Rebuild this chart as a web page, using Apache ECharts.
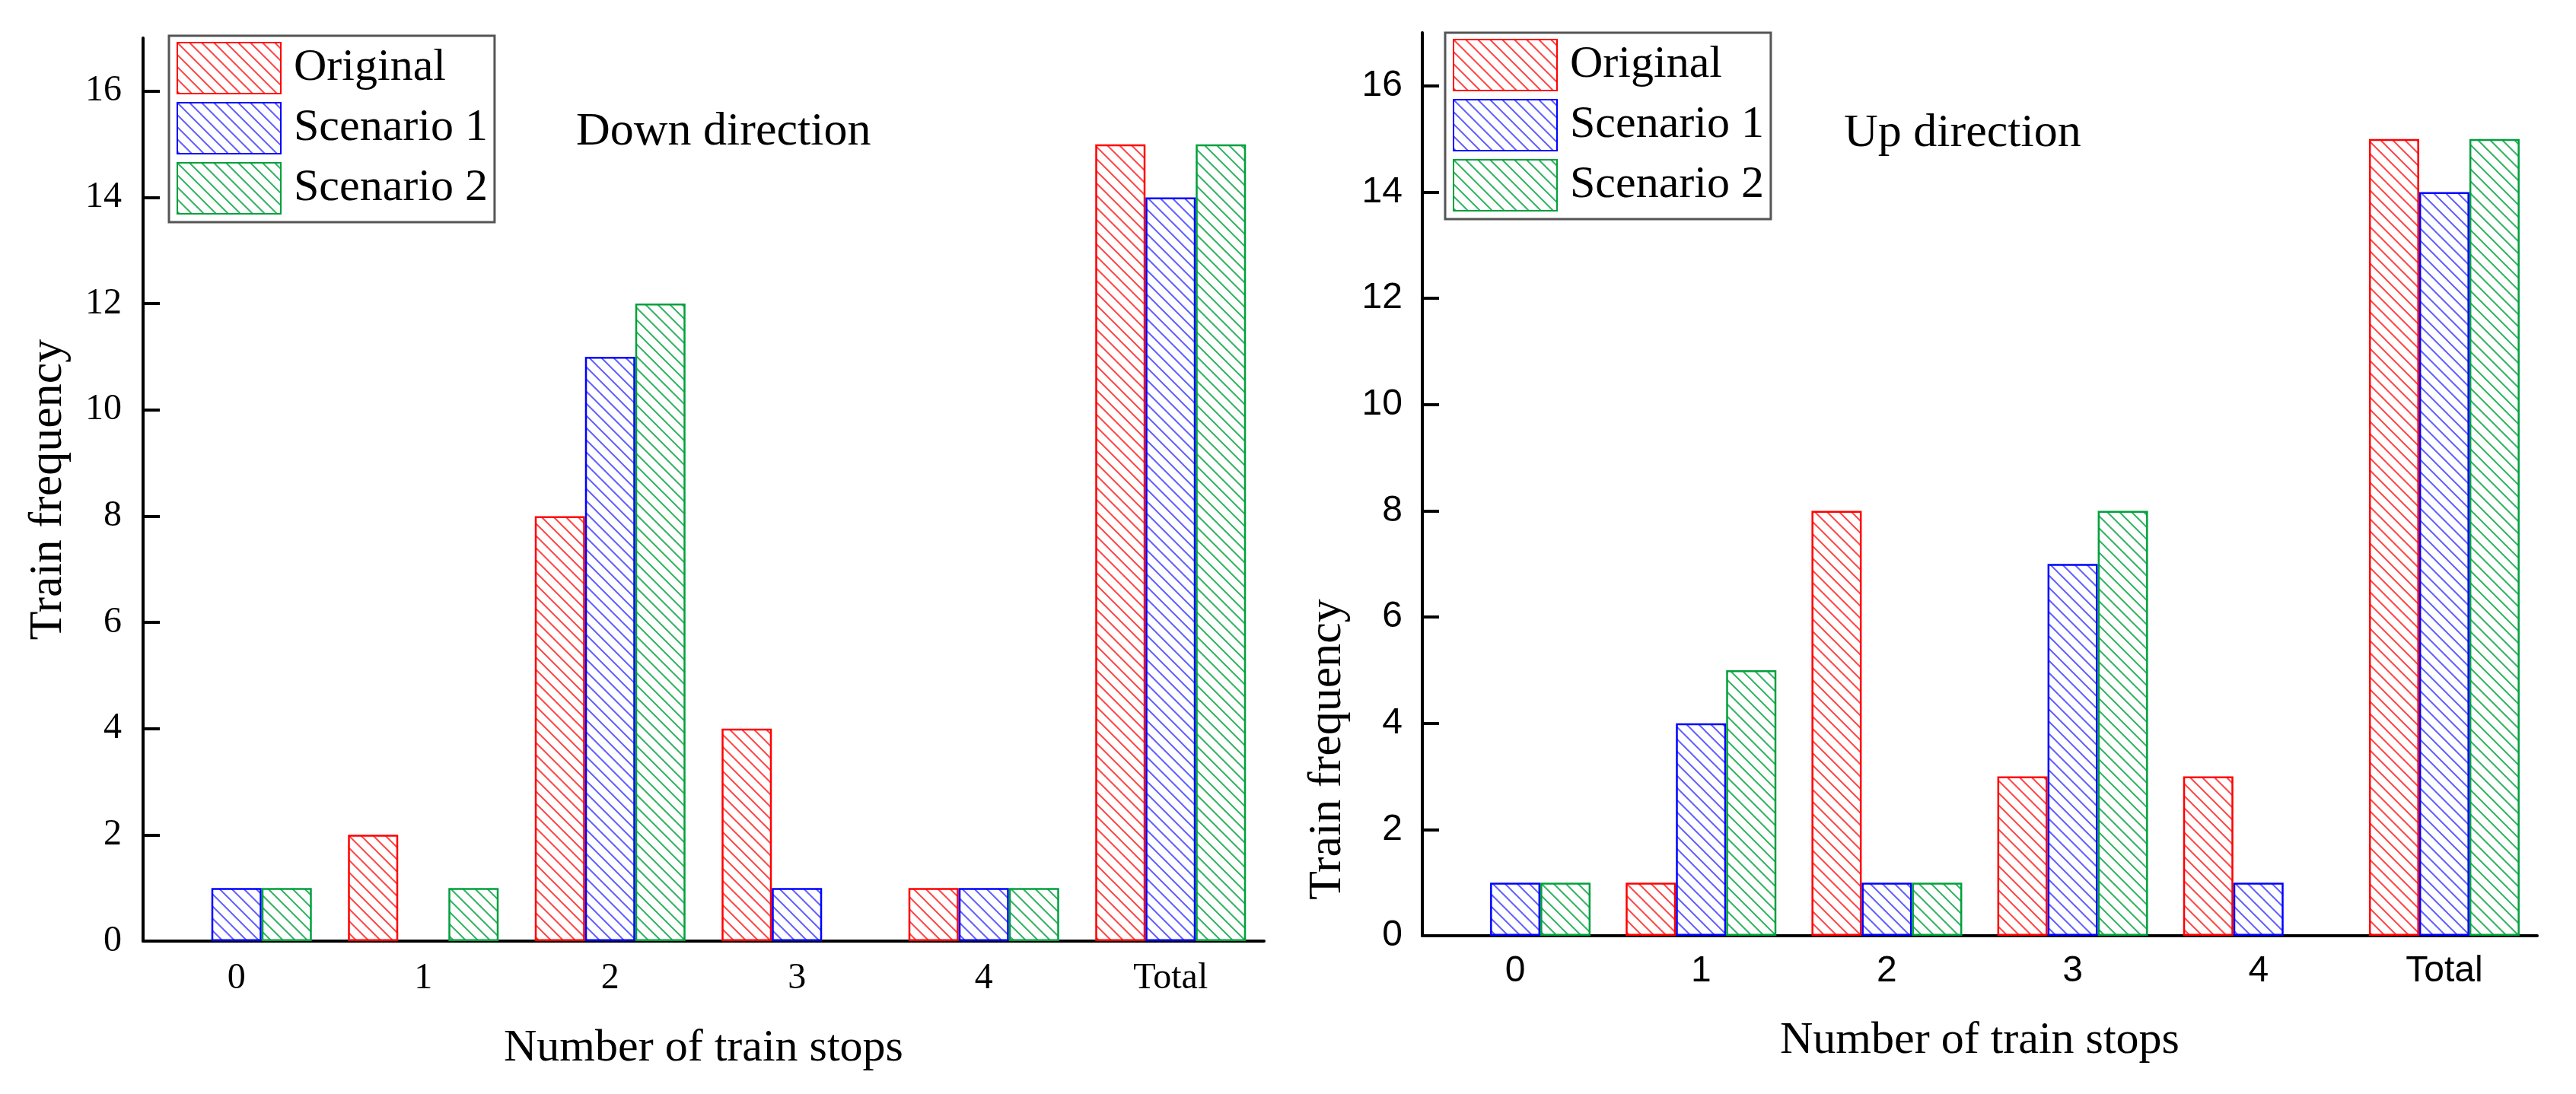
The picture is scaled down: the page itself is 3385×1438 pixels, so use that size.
<!DOCTYPE html>
<html><head><meta charset="utf-8">
<script src="https://cdn.jsdelivr.net/npm/echarts@6/dist/echarts.min.js"></script>
<style>html,body{margin:0;padding:0;background:#fff}#c{width:3385px;height:1438px}</style>
</head><body><div id="c"></div>
<script>
const categories = ['0', '1', '2', '3', '4', 'Total'];
const seriesNames = ['Original', 'Scenario 1', 'Scenario 2'];
const downOriginal = [0, 2, 8, 4, 1, 15];
const downScenario1 = [1, 0, 11, 1, 1, 14];
const downScenario2 = [1, 1, 12, 0, 1, 15];
const upOriginal = [0, 1, 8, 3, 3, 15];
const upScenario1 = [1, 4, 1, 7, 1, 14];
const upScenario2 = [1, 5, 1, 8, 0, 15];
const yTicks = [0, 2, 4, 6, 8, 10, 12, 14, 16];

const lineColors = ['#ff0000', '#0000ff', '#00a03c'];
const hatchColors = ['rgba(255,0,0,0.72)', 'rgba(0,0,255,0.62)', 'rgba(0,160,60,0.8)'];

function hatch(color) {
  const c = document.createElement('canvas');
  c.width = 16; c.height = 16;
  const g = c.getContext('2d');
  g.fillStyle = '#fff'; g.fillRect(0, 0, 16, 16);
  g.strokeStyle = color; g.lineWidth = 2;
  g.beginPath();
  for (let k = -1; k <= 1; k++) { g.moveTo(k * 16 - 2, -2); g.lineTo(k * 16 + 18, 18); }
  g.stroke();
  return { image: c, repeat: 'repeat' };
}
const patterns = hatchColors.map(hatch);

const SERIF = 'Liberation Serif';
const SANS = 'Liberation Sans';

function toData(arr) {
  return arr.map(v => v === 0 ? { value: 0, itemStyle: { borderWidth: 0 } } : v);
}

function makeSeries(values, idx) {
  return values.map((vals, i) => ({
    name: seriesNames[i], type: 'bar', xAxisIndex: idx, yAxisIndex: idx,
    barWidth: 66, barGap: '0%',
    itemStyle: { color: patterns[i], borderColor: lineColors[i], borderWidth: 2.5 },
    data: toData(vals)
  }));
}

function xAxis(gridIndex, font, margin, nameGap) {
  return {
    type: 'category', gridIndex, data: categories,
    axisLine: { lineStyle: { color: '#000', width: 4 } },
    axisTick: { show: false },
    axisLabel: { color: '#000', fontFamily: font, fontSize: 48, margin },
    name: 'Number of train stops', nameLocation: 'middle', nameGap,
    nameTextStyle: { color: '#000', fontFamily: SERIF, fontSize: 60 }
  };
}
function yAxis(gridIndex, font, margin, withName) {
  const a = {
    type: 'value', gridIndex, min: 0, max: 17, interval: 2,
    axisLine: { show: true, lineStyle: { color: '#000', width: 4 } },
    axisTick: { show: true, inside: true, length: 22, customValues: yTicks, lineStyle: { color: '#000', width: 4 } },
    axisLabel: { color: '#000', fontFamily: font, fontSize: 48, margin, customValues: yTicks },
    splitLine: { show: false }
  };
  if (withName) {
    Object.assign(a, {
      name: 'Train frequency', nameLocation: 'middle', nameRotate: 90, nameGap: 93,
      nameTextStyle: { color: '#000', fontFamily: SERIF, fontSize: 62 }
    });
  }
  return a;
}

function legend(left, top) {
  return {
    left, top, orient: 'vertical', data: seriesNames, icon: 'rect',
    itemWidth: 136, itemHeight: 67, itemGap: 10,
    padding: [8, 9, 10, 10],
    backgroundColor: '#fff', borderColor: '#555', borderWidth: 3,
    textStyle: { color: '#000', fontFamily: SERIF, fontSize: 60, padding: [0, 0, 0, 12] },
    selectedMode: false
  };
}

const chart = echarts.init(document.getElementById('c'), null, { renderer: 'canvas' });
chart.setOption({
  backgroundColor: '#fff',
  animation: false,
  grid: [
    { left: 188, top: 50, width: 1473, height: 1187 },
    { left: 1869, top: 43, width: 1465, height: 1187 }
  ],
  xAxis: [xAxis(0, SERIF, 25, 111), xAxis(1, SANS, 23, 108)],
  yAxis: [yAxis(0, SERIF, 28, true), yAxis(1, SANS, 26, false)],
  legend: [legend(222, 47), legend(1899, 43)],
  graphic: [
    { type: 'text', x: 757, y: 174, style: { text: 'Down direction', font: '62px "Liberation Serif"', fill: '#000', textAlign: 'left', textVerticalAlign: 'middle' } },
    { type: 'text', x: 2423, y: 176, style: { text: 'Up direction', font: '62px "Liberation Serif"', fill: '#000', textAlign: 'left', textVerticalAlign: 'middle' } },
    { type: 'text', x: 1745, y: 985, rotation: Math.PI / 2, style: { text: 'Train frequency', font: '62px "Liberation Serif"', fill: '#000', textAlign: 'center', textVerticalAlign: 'middle' } }
  ],
  series: [
    ...makeSeries([downOriginal, downScenario1, downScenario2], 0),
    ...makeSeries([upOriginal, upScenario1, upScenario2], 1)
  ]
});
</script>
</body></html>
